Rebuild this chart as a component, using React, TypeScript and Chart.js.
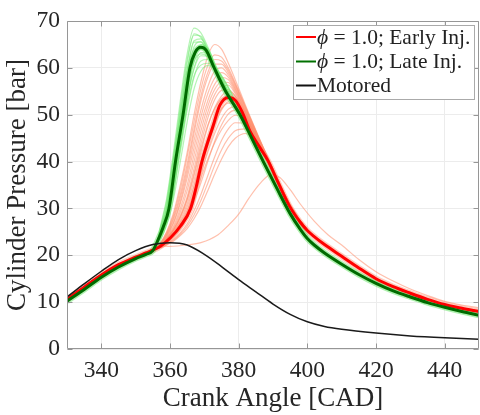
import React, { useEffect, useRef } from 'react';
import { Chart, registerables } from 'chart.js';

Chart.register(...registerables);

// ---------- axes ----------
const xTicks = [340, 360, 380, 400, 420, 440];
const yTicks = [0, 10, 20, 30, 40, 50, 60, 70];
const xTitle = 'Crank Angle [CAD]';
const yTitle = 'Cylinder Pressure [bar]';

// ---------- motored ----------
const motoredCAD = [330, 335, 340, 345, 350, 355, 360, 365, 370, 375, 380, 385, 390, 395, 400, 405, 410, 420, 430, 440, 450];
const motoredP = [11.1, 13.9, 16.6, 19.1, 21.0, 22.3, 22.7, 22.2, 20.2, 17.6, 14.8, 12.2, 9.6, 7.4, 5.8, 4.8, 4.2, 3.4, 2.8, 2.4, 2.1];

// ---------- late injection mean (green) ----------
const lateCAD = [330, 335, 340, 345, 350, 353, 355, 356.4, 358, 359.7, 361.6, 363.8, 365.8, 367.3, 369, 370.5, 372.7, 376, 380.4, 382.8, 387.1, 391, 395, 398, 400, 402, 405, 410, 415, 420, 425, 430, 435, 440, 445, 450];
const lateP = [10.2, 12.7, 15.3, 17.5, 19.3, 20.2, 21.0, 23.1, 26.0, 30.0, 40.0, 50.0, 60.0, 63.3, 64.4, 63.8, 60.3, 55.3, 50.0, 46.5, 40.1, 34.5, 28.9, 25.5, 23.6, 22.2, 20.5, 18.1, 15.9, 14.0, 12.4, 11.1, 9.9, 8.9, 8.0, 7.2];

// ---------- early injection mean (red) ----------
const earlyCAD = [330, 335, 340, 345, 350, 353, 355, 357.3, 360.2, 363, 366, 367.7, 369.3, 372.5, 374.5, 377, 379, 381, 383.3, 386, 388.6, 391.5, 394.8, 398, 400, 402, 405, 410, 415, 420, 425, 430, 435, 440, 445, 450];
const earlyP = [10.6, 13.2, 15.8, 18.0, 19.6, 20.5, 21.1, 22.0, 23.8, 26.2, 30.0, 34.8, 40.0, 47.5, 52.0, 53.7, 53.1, 50.6, 46.5, 43.2, 40.1, 35.5, 30.5, 27.0, 25.3, 24.0, 22.3, 19.8, 17.3, 15.0, 13.3, 11.9, 10.6, 9.5, 8.7, 8.0];

// ---------- late injection single cycles (combustion window) ----------
const lateWindowCAD = [357, 359, 361, 363, 365, 367, 369, 371, 374, 378, 383, 389, 395];
const lateCycle1 = [25.5, 32.0, 42.0, 53.0, 63.0, 68.5, 67.5, 64.5, 59.0, 53.0, 46.0, 37.0, 28.6];
const lateCycle2 = [25.0, 31.0, 40.5, 51.0, 61.0, 67.3, 66.5, 63.8, 58.8, 53.0, 46.2, 37.2, 28.7];
const lateCycle3 = [24.8, 30.0, 39.0, 49.5, 59.0, 65.8, 66.2, 63.8, 58.7, 53.0, 46.3, 37.3, 28.7];
const lateCycle4 = [24.5, 29.5, 38.5, 48.5, 58.0, 64.5, 65.6, 63.6, 58.6, 53.0, 46.3, 37.2, 28.7];
const lateCycle5 = [24.0, 28.0, 35.5, 45.0, 55.0, 62.0, 65.0, 64.0, 59.0, 53.3, 46.5, 37.4, 28.8];
const lateCycle6 = [23.8, 27.5, 34.5, 43.5, 53.0, 60.0, 63.3, 63.0, 59.0, 53.5, 46.6, 37.5, 28.8];
const lateCycle7 = [23.5, 27.0, 33.5, 42.0, 51.0, 58.0, 61.5, 61.8, 59.5, 54.5, 47.0, 37.6, 28.9];
const lateCycle8 = [23.3, 26.5, 32.0, 40.0, 48.5, 55.5, 59.3, 60.5, 59.3, 54.5, 47.0, 37.6, 28.9];
const lateCycle9 = [24.6, 29.8, 39.5, 50.0, 59.5, 65.5, 65.5, 63.2, 58.5, 52.8, 46.1, 37.1, 28.6];
const lateCycle10 = [24.3, 29.0, 37.5, 47.5, 57.0, 62.5, 64.0, 62.8, 58.4, 53.0, 46.3, 37.3, 28.7];
const lateCycle11 = [24.0, 28.5, 36.0, 45.0, 53.5, 59.8, 62.6, 62.5, 58.7, 53.4, 46.5, 37.4, 28.8];
const lateCycle12 = [25.2, 31.5, 41.0, 51.8, 61.8, 67.0, 66.8, 64.0, 58.8, 52.9, 46.1, 37.1, 28.6];
const lateCycle13 = [24.1, 28.8, 36.8, 46.2, 55.5, 61.3, 63.0, 62.3, 58.5, 53.2, 46.4, 37.3, 28.7];
const lateCycle14 = [23.6, 27.2, 33.8, 42.8, 51.8, 58.3, 60.6, 61.0, 59.2, 54.2, 46.9, 37.5, 28.8];
const lateCycles = [lateCycle1, lateCycle2, lateCycle3, lateCycle4, lateCycle5, lateCycle6, lateCycle7, lateCycle8, lateCycle9, lateCycle10, lateCycle11, lateCycle12, lateCycle13, lateCycle14];

// ---------- early injection single cycles (combustion window) ----------
const earlyWindowCAD = [357, 359, 361, 363, 365, 367, 369, 371, 373, 375, 377, 379, 382, 386, 390, 395, 400];
const earlyCycle1 = [22.5, 25.0, 29.0, 35.0, 42.0, 50.0, 57.0, 62.5, 65.0, 64.0, 61.0, 57.5, 52.0, 45.0, 38.5, 30.8, 25.4];
const earlyCycle2 = [22.3, 24.5, 28.0, 33.0, 39.5, 47.0, 54.0, 59.0, 61.8, 61.5, 59.5, 56.5, 51.5, 44.8, 38.4, 30.8, 25.4];
const earlyCycle3 = [22.2, 24.2, 27.0, 31.5, 37.5, 44.5, 51.0, 56.0, 59.3, 60.0, 58.5, 55.8, 51.0, 44.6, 38.3, 30.7, 25.4];
const earlyCycle4 = [22.1, 23.8, 26.2, 30.0, 35.0, 41.5, 48.0, 53.0, 56.5, 58.0, 57.5, 55.2, 50.6, 44.4, 38.2, 30.6, 25.4];
const earlyCycle5 = [22.0, 23.5, 25.5, 28.5, 32.5, 38.5, 45.0, 50.5, 54.3, 56.2, 56.3, 54.5, 50.2, 44.2, 38.1, 30.5, 25.4];
const earlyCycle6 = [21.9, 23.2, 25.0, 27.5, 31.0, 36.0, 42.0, 47.5, 51.5, 54.0, 55.0, 54.0, 50.0, 44.0, 38.0, 30.5, 25.4];
const earlyCycle7 = [21.8, 22.9, 24.5, 26.5, 29.5, 33.5, 38.5, 43.5, 47.8, 51.0, 52.8, 52.7, 49.6, 43.8, 37.9, 30.4, 25.3];
const earlyCycle8 = [21.7, 22.6, 23.9, 25.6, 28.0, 31.5, 35.5, 40.0, 44.3, 47.8, 50.2, 51.0, 49.2, 43.6, 37.8, 30.4, 25.3];
const earlyCycle9 = [21.6, 22.4, 23.4, 24.8, 26.7, 29.5, 33.0, 37.0, 41.0, 44.5, 47.0, 48.3, 48.2, 43.5, 37.7, 30.3, 25.3];
const earlyCycle10 = [21.5, 22.2, 23.0, 24.2, 25.7, 27.8, 30.5, 33.8, 37.3, 40.5, 43.2, 45.0, 46.0, 43.2, 37.6, 30.3, 25.3];
const earlyCycle11 = [22.2, 24.0, 26.8, 31.0, 36.5, 43.0, 49.5, 54.5, 57.8, 59.0, 58.0, 55.5, 50.8, 44.5, 38.3, 30.7, 25.4];
const earlyCycle12 = [22.0, 23.4, 25.3, 28.0, 31.8, 37.0, 42.8, 47.8, 51.3, 53.4, 54.0, 53.0, 49.5, 43.8, 37.9, 30.4, 25.3];
const earlyCycle13 = [21.7, 22.7, 24.1, 26.0, 28.6, 32.3, 36.5, 40.5, 44.0, 46.8, 48.8, 49.9, 49.0, 43.7, 37.8, 30.4, 25.3];
const earlyCycle14 = [22.4, 24.8, 28.5, 34.0, 41.0, 48.5, 55.5, 60.5, 62.8, 62.3, 60.0, 56.8, 51.7, 44.9, 38.4, 30.8, 25.4];
const earlyCycle15 = [21.8, 22.8, 24.3, 26.2, 29.0, 33.0, 37.5, 42.0, 46.0, 49.2, 51.2, 51.8, 49.4, 43.7, 37.8, 30.4, 25.3];
const earlyCycle16 = [22.1, 23.6, 25.8, 29.2, 33.8, 40.0, 46.5, 51.8, 55.4, 57.0, 56.9, 54.8, 50.4, 44.3, 38.1, 30.5, 25.4];
const earlyCycle17 = [22.3, 24.4, 27.6, 32.3, 38.5, 46.0, 53.0, 58.0, 60.8, 60.8, 59.0, 56.2, 51.3, 44.7, 38.3, 30.7, 25.4];
const earlyCycle18 = [21.6, 22.3, 23.2, 24.5, 26.2, 28.6, 31.7, 35.4, 39.2, 42.5, 45.0, 46.6, 47.0, 43.3, 37.6, 30.3, 25.3];
const earlyCycle19 = [22.0, 23.4, 25.4, 28.2, 32.0, 37.5, 43.8, 49.3, 53.2, 55.2, 55.4, 54.0, 49.8, 44.0, 38.0, 30.5, 25.3];
const earlyCycle20 = [21.8, 23.0, 24.7, 27.0, 30.3, 34.8, 40.0, 45.0, 48.8, 51.3, 52.5, 52.3, 49.5, 43.8, 37.9, 30.4, 25.3];
const earlyCycles = [earlyCycle1, earlyCycle2, earlyCycle3, earlyCycle4, earlyCycle5, earlyCycle6, earlyCycle7, earlyCycle8, earlyCycle9, earlyCycle10, earlyCycle11, earlyCycle12, earlyCycle13, earlyCycle14, earlyCycle15, earlyCycle16, earlyCycle17, earlyCycle18, earlyCycle19, earlyCycle20];

// ---------- slow-burning early-injection cycle ----------
const slowCycleCAD = [360, 365, 369, 374, 377, 380, 383, 386.2, 389.5, 392, 395, 398, 402, 406, 410, 415, 420, 425, 430, 435, 440, 445, 450];
const slowCycleP = [21.9, 22.2, 22.7, 24.4, 26.4, 28.8, 32.2, 35.3, 37.3, 36.6, 34.0, 30.9, 27.3, 24.4, 22.2, 19.1, 16.5, 14.5, 12.8, 11.4, 10.2, 9.4, 8.8];

// ---------- legend ----------
const legendLabels = ['ϕ = 1.0; Early Inj.', 'ϕ = 1.0; Late Inj.', 'Motored'];
const legendColors = ['#ff0000', '#007000', '#111111'];

const SERIF = '"Liberation Serif", "Times New Roman", "DejaVu Serif", serif';

function pts(cad: number[], p: number[]) {
  return cad.map((x, i) => ({ x, y: p[i] }));
}

function withWindow(meanCad: number[], meanP: number[], winCad: number[], vals: number[]) {
  const lo = winCad[0];
  const hi = winCad[winCad.length - 1];
  const out: { x: number; y: number }[] = [];
  meanCad.forEach((x, i) => { if (x < lo) out.push({ x, y: meanP[i] }); });
  winCad.forEach((x, i) => out.push({ x, y: vals[i] }));
  meanCad.forEach((x, i) => { if (x > hi) out.push({ x, y: meanP[i] }); });
  return out;
}

const framePlugin = {
  id: 'frame',
  afterDatasetsDraw(chart: any) {
    const { ctx, chartArea: a, scales } = chart;
    const xs = scales.x;
    const ys = scales.y;
    ctx.save();
    ctx.strokeStyle = 'rgb(150,150,150)';
    ctx.lineWidth = 1;
    ctx.beginPath();
    const L = Math.round(a.left) + 0.5;
    const R = Math.round(a.right) - 0.5;
    const T = Math.round(a.top) + 0.5;
    const B = Math.round(a.bottom) - 0.5;
    xTicks.forEach((v) => {
      const px = Math.round(xs.getPixelForValue(v)) + 0.5;
      ctx.moveTo(px, B); ctx.lineTo(px, B - 5);
      ctx.moveTo(px, T); ctx.lineTo(px, T + 5);
    });
    yTicks.forEach((v) => {
      const py = Math.round(ys.getPixelForValue(v)) + 0.5;
      ctx.moveTo(L, py); ctx.lineTo(L + 5, py);
      ctx.moveTo(R, py); ctx.lineTo(R - 5, py);
    });
    ctx.rect(L, T, R - L, B - T);
    ctx.stroke();
    ctx.restore();
  },
  afterDraw(chart: any) {
    const { ctx } = chart;
    ctx.save();
    const bx = 293.5, by = 25.5, bw = 181, bh = 74;
    ctx.fillStyle = '#ffffff';
    ctx.fillRect(bx, by, bw, bh);
    ctx.strokeStyle = 'rgb(170,170,170)';
    ctx.lineWidth = 1;
    ctx.strokeRect(bx, by, bw, bh);
    const rows = [37, 61.5, 85.5];
    const fs = 21.5;
    legendLabels.forEach((lab, i) => {
      const y = rows[i];
      ctx.strokeStyle = legendColors[i];
      ctx.lineWidth = 2;
      ctx.beginPath();
      ctx.moveTo(296, y);
      ctx.lineTo(316, y);
      ctx.stroke();
      ctx.fillStyle = '#222222';
      ctx.textBaseline = 'middle';
      ctx.textAlign = 'left';
      let tx = 317;
      let rest = lab;
      if (lab.startsWith('ϕ')) {
        ctx.font = `italic ${fs}px ${SERIF}`;
        ctx.fillText('ϕ', tx, y + 1);
        tx += ctx.measureText('ϕ').width;
        rest = lab.slice(1);
      }
      ctx.font = `${fs}px ${SERIF}`;
      ctx.fillText(rest, tx, y + 1);
    });
    ctx.restore();
  },
};

export default function App() {
  const ref = useRef<HTMLCanvasElement | null>(null);
  useEffect(() => {
    if (!ref.current) return;
    const common = { pointRadius: 0, fill: false, cubicInterpolationMode: 'monotone' as const };
    const datasets: any[] = [];
    datasets.push({ ...common, label: 'Motored', data: pts(motoredCAD, motoredP), borderColor: '#1a1a1a', borderWidth: 1.5, order: 0 });
    datasets.push({ ...common, label: 'late', data: pts(lateCAD, lateP), borderColor: '#006a00', borderWidth: 3, order: 1 });
    datasets.push({ ...common, label: 'early', data: pts(earlyCAD, earlyP), borderColor: '#ff0000', borderWidth: 3, order: 2 });
    datasets.push({ ...common, label: 'lateHalo', data: pts(lateCAD, lateP), borderColor: 'rgba(110,230,110,0.55)', borderWidth: 6, order: 3 });
    datasets.push({ ...common, label: 'earlyHalo', data: pts(earlyCAD, earlyP), borderColor: 'rgba(255,140,110,0.45)', borderWidth: 6, order: 4 });
    lateCycles.forEach((c, i) => {
      datasets.push({ ...common, label: 'lc' + i, data: withWindow(lateCAD, lateP, lateWindowCAD, c), borderColor: 'rgba(120,235,120,0.55)', borderWidth: 1.2, order: 5 });
    });
    earlyCycles.forEach((c, i) => {
      datasets.push({ ...common, label: 'ec' + i, data: withWindow(earlyCAD, earlyP, earlyWindowCAD, c), borderColor: 'rgba(255,140,105,0.55)', borderWidth: 1.2, order: 6 });
    });
    datasets.push({ ...common, label: 'slow', data: withWindow(earlyCAD, earlyP, slowCycleCAD, slowCycleP), borderColor: 'rgba(255,140,105,0.55)', borderWidth: 1.2, order: 6 });

    const chart = new Chart(ref.current, {
      type: 'line',
      data: { datasets },
      plugins: [framePlugin],
      options: {
        responsive: false,
        animation: false,
        events: [],
        layout: { padding: { top: 19, right: 1, left: 0, bottom: 0 } },
        plugins: { legend: { display: false }, tooltip: { enabled: false } },
        scales: {
          x: {
            type: 'linear',
            min: 330,
            max: 450,
            afterBuildTicks: (s: any) => { s.ticks = xTicks.map((v) => ({ value: v })); },
            afterFit: (s: any) => { s.height = 66; },
            ticks: { color: '#262626', font: { family: SERIF, size: 23.5 }, padding: 8, maxRotation: 0 },
            grid: { color: 'rgb(236,236,236)', drawTicks: false },
            border: { display: false },
            title: { display: true, text: xTitle, color: '#262626', font: { family: SERIF, size: 27, lineHeight: 1 }, padding: { top: 0, bottom: 3 } },
          },
          y: {
            type: 'linear',
            min: 0,
            max: 70,
            afterBuildTicks: (s: any) => { s.ticks = yTicks.map((v) => ({ value: v })); },
            afterFit: (s: any) => { s.width = 67; },
            ticks: { color: '#262626', font: { family: SERIF, size: 23.5 }, padding: 7 },
            grid: { color: 'rgb(236,236,236)', drawTicks: false },
            border: { display: false },
            title: { display: true, text: yTitle, color: '#262626', font: { family: SERIF, size: 27, lineHeight: 1 }, padding: { top: 4, bottom: 0 } },
          },
        },
      },
    });
    return () => chart.destroy();
  }, []);
  return (
    <div style={{ position: 'fixed', left: 0, top: 0, width: 480, height: 415, background: '#fff' }}>
      <canvas ref={ref} width={480} height={415} style={{ display: 'block' }} />
    </div>
  );
}
